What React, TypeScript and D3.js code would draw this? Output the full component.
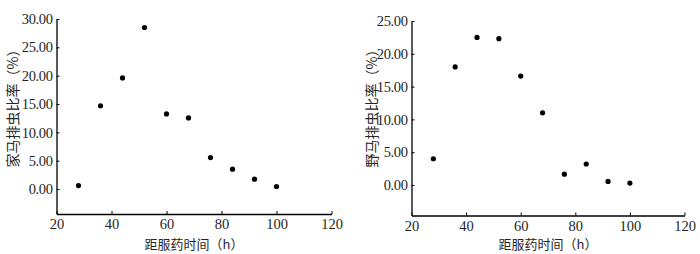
import * as d3 from "d3";
import React, { useEffect, useRef } from "react";

// hours after dosing
const hours = [28, 36, 44, 52, 60, 68, 76, 84, 92, 100];
// domestic horses (%)
const domesticRate = [0.62, 14.7, 19.6, 28.5, 13.25, 12.55, 5.55, 3.5, 1.75, 0.45];
// wild horses (%)
const wildRate = [4.0, 18.0, 22.5, 22.3, 16.6, 11.0, 1.65, 3.2, 0.55, 0.3];

const xTicks = [20, 40, 60, 80, 100, 120];
const leftYTicks = [0, 5, 10, 15, 20, 25, 30];
const rightYTicks = [0, 5, 10, 15, 20, 25];

const xTitle = "距服药时间（h）";
const leftYTitle = "家马排虫比率（%）";
const rightYTitle = "野马排虫比率（%）";

interface PanelSpec {
  left: number;
  right: number;
  top: number;
  bottom: number;
  yMin: number;
  yMax: number;
  yTicks: number[];
  values: number[];
  yTitle: string;
  yTitleX: number;
}

const panels: PanelSpec[] = [
  { left: 56.5, right: 331.5, top: 19, bottom: 214, yMin: -4.4, yMax: 30, yTicks: leftYTicks, values: domesticRate, yTitle: leftYTitle, yTitleX: 13 },
  { left: 411.5, right: 684.5, top: 21, bottom: 215.5, yMin: -4.65, yMax: 25, yTicks: rightYTicks, values: wildRate, yTitle: rightYTitle, yTitleX: 372 },
];

const textColor = "#262626";
const numFont = "'Liberation Serif', 'Times New Roman', serif";
const cjkFont = "'Noto Sans CJK SC', 'Liberation Serif', serif";

export default function App() {
  const svgRef = useRef<SVGSVGElement>(null);

  useEffect(() => {
    const svg = d3.select(svgRef.current);
    svg.selectAll("*").remove();

    panels.forEach((p) => {
      const x = d3.scaleLinear().domain([20, 120]).range([p.left, p.right]);
      const y = d3.scaleLinear().domain([p.yMin, p.yMax]).range([p.bottom, p.top]);
      const g = svg.append("g");

      // x axis, ticks pointing inward
      const xAxis = g
        .append("g")
        .attr("transform", `translate(0,${p.bottom})`)
        .call(d3.axisBottom(x).tickValues(xTicks).tickSizeInner(-3).tickSizeOuter(0));
      xAxis.attr("font-family", null).attr("font-size", null);
      xAxis.select(".domain").attr("stroke", "#000").attr("stroke-width", 1.3);
      xAxis.selectAll(".tick line").attr("stroke", "#000");
      xAxis
        .selectAll(".tick text")
        .attr("fill", textColor)
        .style("font-family", numFont)
        .style("font-size", "14.5px")
        .attr("dy", "0.71em")
        .attr("y", 5);

      // y axis
      const yAxis = g
        .append("g")
        .attr("transform", `translate(${p.left},0)`)
        .call(
          d3
            .axisLeft(y)
            .tickValues(p.yTicks)
            .tickFormat(d3.format(".2f"))
            .tickSizeInner(-3)
            .tickSizeOuter(0)
            .tickPadding(4)
        );
      yAxis.attr("font-family", null).attr("font-size", null);
      yAxis.select(".domain").attr("stroke", "#000").attr("stroke-width", 1.3);
      yAxis.selectAll(".tick line").attr("stroke", "#000");
      yAxis
        .selectAll(".tick text")
        .attr("fill", textColor)
        .style("font-family", numFont)
        .style("font-size", "14.5px")
        .attr("letter-spacing", -0.4);

      // points
      g.selectAll("circle")
        .data(hours.map((h, i) => [h, p.values[i]]))
        .join("circle")
        .attr("cx", (d) => x(d[0]))
        .attr("cy", (d) => y(d[1]))
        .attr("r", 2.6)
        .attr("fill", "#000");

      // x title
      g.append("text")
        .attr("x", (p.left + p.right) / 2)
        .attr("y", 249)
        .attr("text-anchor", "middle")
        .attr("fill", textColor)
        .style("font-family", cjkFont)
        .style("font-size", "13px")
        .text(xTitle);

      // y title
      g.append("text")
        .attr("transform", `translate(${p.yTitleX},105) rotate(-90)`)
        .attr("text-anchor", "middle")
        .attr("dy", "0.35em")
        .attr("fill", textColor)
        .style("font-family", cjkFont)
        .style("font-size", "14px")
        .text(p.yTitle);
    });
  }, []);

  return (
    <svg
      ref={svgRef}
      width={700}
      height={254}
      style={{ position: "absolute", left: 0, top: 0, background: "#fff" }}
    />
  );
}
